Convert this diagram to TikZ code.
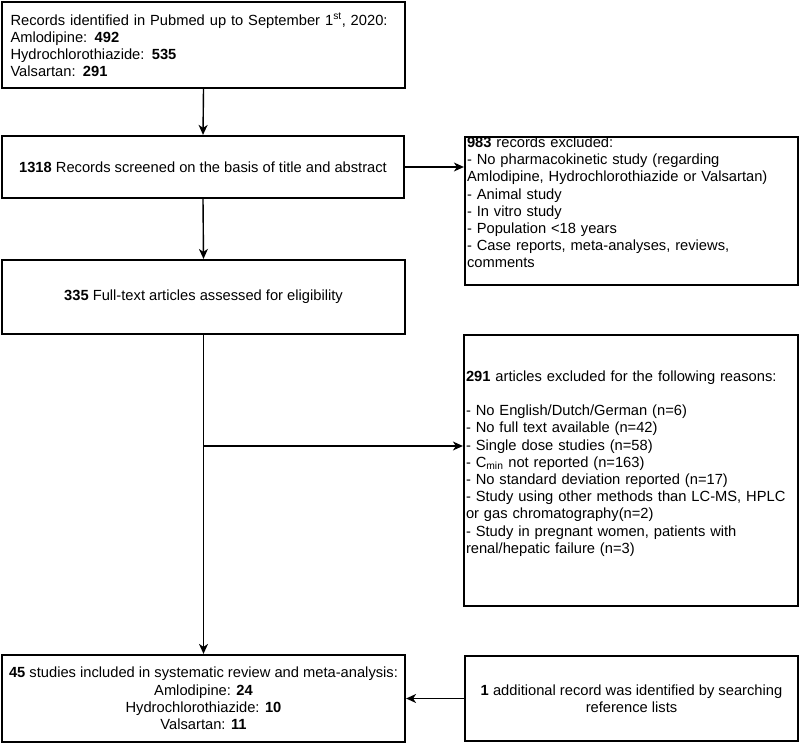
\documentclass[tikz,border=0pt]{standalone}
\usepackage{fontspec}
\setmainfont{Liberation Sans}
\usetikzlibrary{arrows.meta}
\begin{document}
\begin{tikzpicture}[x=1pt,y=-1pt,
  box/.style={draw=black, line width=2.2pt, inner xsep=0pt, inner ysep=0pt,
    font=\fontsize{14.7}{17.2}\selectfont},
  lbox/.style={box, align=left},
  cbox/.style={box, align=center},
  arr/.style={line width=1.4pt, -{Stealth[length=10pt,width=9pt,inset=3pt]}}]
\useasboundingbox (0,0) rectangle (800,743);
\fill[white] (0,0) rectangle (800,743);
\node[lbox, minimum width=403pt, minimum height=86pt, text width=386pt] (b1) at (203.5,45)
  {Records identified in Pubmed up to September 1\textsuperscript{st}, 2020:\\
   Amlodipine: \textbf{492}\\
   Hydrochlorothiazide: \textbf{535}\\
   Valsartan: \textbf{291}};
\node[cbox, minimum width=402pt, minimum height=62pt] (b2) at (203,167)
  {\textbf{1318} Records screened on the basis of title and abstract};
\node[cbox, minimum width=403pt, minimum height=74pt] (b3) at (203.5,297)
  {\textbf{335} Full-text articles assessed for eligibility};
\node[lbox, minimum width=333pt, minimum height=148pt, text width=329pt] (b4) at (631.5,211)
  {\textbf{983} records excluded:\\
   - No pharmacokinetic study (regarding\\
   Amlodipine, Hydrochlorothiazide or Valsartan)\\
   - Animal study\\
   - In vitro study\\
   - Population <18 years\\
   - Case reports, meta-analyses, reviews,\\
   comments\\ \mbox{}};
\node[lbox, minimum width=334pt, minimum height=271pt, text width=330pt] (b5) at (631,470.5)
  {\textbf{291} articles excluded for the following reasons:\\ \mbox{}\\
   - No English/Dutch/German (n=6)\\
   - No full text available (n=42)\\
   - Single dose studies (n=58)\\
   - C\textsubscript{min} not reported (n=163)\\
   - No standard deviation reported (n=17)\\
   - Study using other methods than LC-MS, HPLC\\
   or gas chromatography(n=2)\\
   - Study in pregnant women, patients with\\
   renal/hepatic failure (n=3)\\ \mbox{}};
\node[cbox, minimum width=403pt, minimum height=87pt] (b6) at (203.5,698.5)
  {\textbf{45} studies included in systematic review and meta-analysis:\\
   Amlodipine: \textbf{24}\\
   Hydrochlorothiazide: \textbf{10}\\
   Valsartan: \textbf{11}};
\node[cbox, minimum width=333pt, minimum height=85pt] (b7) at (631.5,698.5)
  {\textbf{1} additional record was identified by searching\\ reference lists};
\coordinate (br) at (203,446);
\draw[arr] (b1.south) -- (b2.north);
\draw[arr] (b2.east) -- (b2.east -| b4.west);
\draw[arr] (b2.south) -- (b3.north);
\draw[arr] (b3.south) -- (b6.north);
\draw[arr] (br) -- (br -| b5.west);
\draw[arr] (b7.west) -- (b6.east);
\end{tikzpicture}
\end{document}
